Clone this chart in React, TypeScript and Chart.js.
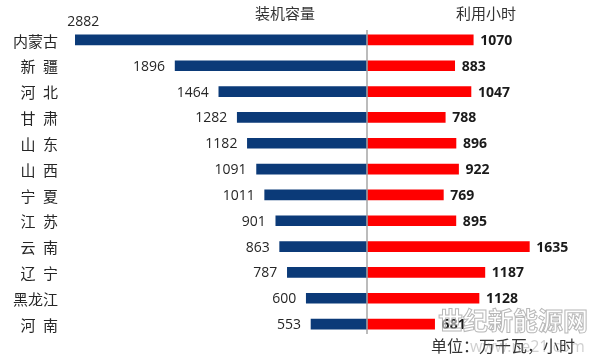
import React, { useEffect, useRef } from "react";
import { Chart, registerables } from "chart.js";

Chart.register(...registerables);

const categories = ["内蒙古", "新 疆", "河 北", "甘 肃", "山 东", "山 西", "宁 夏", "江 苏", "云 南", "辽 宁", "黑龙江", "河 南"];
const capacity = [2882, 1896, 1464, 1282, 1182, 1091, 1011, 901, 863, 787, 600, 553];
const hours = [1070, 883, 1047, 788, 896, 922, 769, 895, 1635, 1187, 1128, 681];
const leftTitle = "装机容量";
const rightTitle = "利用小时";
const unitNote = "单位：万千瓦，小时";
const watermark = "世纪新能源网";
const watermarkUrl = "www.ne21.com";

const BLUE = "#0B3A78";
const RED = "#FF0000";
const CJK = '"Noto Sans CJK SC", "Noto Sans", sans-serif';
const NUM = '"Open Sans", "Liberation Sans", sans-serif';

const overlayPlugin = {
  id: "overlay",
  afterDatasetsDraw(chart: any) {
    const ctx = chart.ctx;
    const area = chart.chartArea;
    const xR = chart.scales.xR;
    const zeroX = xR.getPixelForValue(0);
    ctx.save();
    // center line
    ctx.strokeStyle = "#A6A6A6";
    ctx.lineWidth = 1.5;
    ctx.beginPath();
    ctx.moveTo(zeroX, area.top + 3);
    ctx.lineTo(zeroX, area.bottom - 3);
    ctx.stroke();

    // category labels
    const yScale = chart.scales.y;
    ctx.fillStyle = "#262626";
    ctx.font = `15px ${CJK}`;
    ctx.textAlign = "right";
    ctx.textBaseline = "middle";
    categories.forEach((c, i) => {
      ctx.fillText(c.replace(" ", "\u2002"), 58, yScale.getPixelForValue(i) + 1);
    });

    // left value labels
    const metaL = chart.getDatasetMeta(0);
    ctx.font = `14px ${NUM}`;
    ctx.fillStyle = "#262626";
    metaL.data.forEach((bar: any, i: number) => {
      const txt = String(capacity[i]);
      const w = ctx.measureText(txt).width;
      if (bar.x - 10 - w < area.left) {
        ctx.textAlign = "center";
        ctx.fillText(txt, bar.x + 8, bar.y - 18);
      } else {
        ctx.textAlign = "right";
        ctx.fillText(txt, bar.x - 10, bar.y + 1);
      }
    });

    // right value labels
    const metaR = chart.getDatasetMeta(1);
    ctx.font = `bold 14px ${NUM}`;
    ctx.fillStyle = "#1a1a1a";
    ctx.textAlign = "left";
    metaR.data.forEach((bar: any, i: number) => {
      ctx.fillText(String(hours[i]), bar.x + 7, bar.y + 1);
    });

    // titles
    ctx.font = `15px ${CJK}`;
    ctx.fillStyle = "#333333";
    ctx.textAlign = "center";
    ctx.fillText(leftTitle, 285, 13);
    ctx.fillText(rightTitle, 486, 13);

    // unit note
    ctx.font = `16px ${CJK}`;
    ctx.fillStyle = "#333333";
    ctx.textAlign = "left";
    ctx.fillText(unitNote, 431, 346);

    // watermark
    ctx.font = `bold 25px ${CJK}`;
    ctx.textAlign = "left";
    ctx.fillStyle = "rgba(255,255,255,0.55)";
    ctx.fillText(watermark, 438, 320);
    ctx.strokeStyle = "rgba(160,160,160,0.75)";
    ctx.lineWidth = 1;
    ctx.strokeText(watermark, 438, 320);
    ctx.font = `16px ${NUM}`;
    ctx.fillStyle = "rgba(120,120,120,0.35)";
    ctx.fillText(watermarkUrl, 470, 347);
    ctx.restore();
  },
};

export default function App() {
  const ref = useRef<HTMLCanvasElement>(null);
  useEffect(() => {
    document.body.style.margin = "0";
    const left = 66;
    const right = 590;
    const zero = 367;
    const sL = 0.1012;
    const sR = 0.0993;
    const chart = new Chart(ref.current!, {
      type: "bar",
      data: {
        labels: categories,
        datasets: [
          { data: capacity, backgroundColor: BLUE, xAxisID: "xL", barThickness: 10, grouped: false } as any,
          { data: hours, backgroundColor: RED, xAxisID: "xR", barThickness: 10, grouped: false } as any,
        ],
      },
      options: {
        indexAxis: "y",
        responsive: false,
        animation: false,
        layout: { padding: { left, right: 594 - right, top: 27, bottom: 24 } },
        plugins: { legend: { display: false }, tooltip: { enabled: false } },
        scales: {
          y: { display: false, grid: { display: false } },
          xL: {
            type: "linear",
            display: false,
            reverse: true,
            min: -(right - zero) / sL,
            max: (zero - left) / sL,
          },
          xR: {
            type: "linear",
            display: false,
            min: -(zero - left) / sR,
            max: (right - zero) / sR,
          },
        },
      },
      plugins: [overlayPlugin],
    });
    return () => chart.destroy();
  }, []);
  return <canvas ref={ref} width={594} height={361} style={{ display: "block" }} />;
}
